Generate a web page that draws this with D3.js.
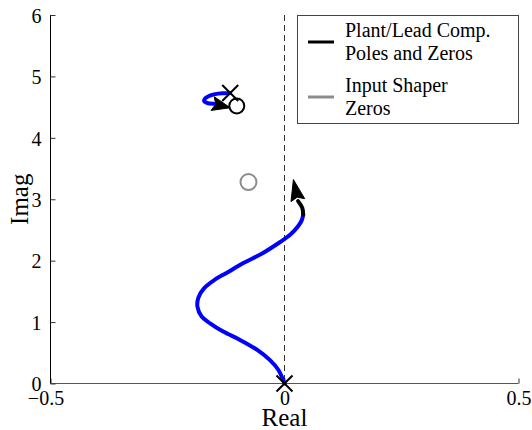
<!DOCTYPE html>
<html>
<head>
<meta charset="utf-8">
<script src="https://cdn.jsdelivr.net/npm/d3@7"></script>
<style>
  html, body { margin: 0; padding: 0; background: #fff; }
  svg { display: block; }
  text { font-family: "Liberation Serif", "Times New Roman", serif; fill: #000; }
</style>
</head>
<body>
<svg id="chart" width="532" height="430"></svg>
<script>
// Axis ticks
const realTicks = [-0.5, 0, 0.5];
const imagTicks = [0, 1, 2, 3, 4, 5, 6];

// Root locus branches [real, imag] (drawn in blue)
const lowerBranch = [
  [0, 0], [-0.013, 0.22], [-0.031, 0.38], [-0.059, 0.55], [-0.095, 0.71],
  [-0.131, 0.845], [-0.159, 0.98], [-0.177, 1.09], [-0.186, 1.25], [-0.184, 1.40],
  [-0.172, 1.55], [-0.149, 1.69], [-0.124, 1.80], [-0.088, 1.96], [-0.045, 2.13],
  [-0.010, 2.30], [0.012, 2.42], [0.029, 2.56], [0.037, 2.66], [0.040, 2.75]
];
const upperBranch = [
  [-0.116, 4.73], [-0.128, 4.725], [-0.142, 4.72], [-0.158, 4.69], [-0.169, 4.645],
  [-0.172, 4.60], [-0.166, 4.57], [-0.152, 4.555]
];

// Direction arrows at the ends of the branches (last point is the tip)
const lowerArrow = [[0.040, 2.75], [0.038, 2.86], [0.029, 2.97], [0.019, 3.32]];
const upperArrow = [[-0.152, 4.555], [-0.116, 4.49]];

// Plant / lead compensator poles and zeros
const plantPoles = [[0, 0], [-0.116, 4.73]];
const plantZeros = [[-0.102, 4.52]];
// Input shaper zeros
const shaperZeros = [[-0.077, 3.28]];

// Legend entries
const legendItems = [
  { lines: ["Plant/Lead Comp.", "Poles and Zeros"], color: "#000" },
  { lines: ["Input Shaper", "Zeros"], color: "#8c8c8c" }
];

const svg = d3.select("#chart");
const x = d3.scaleLinear().domain([-0.5, 0.5]).range([50.5, 518.5]);
const y = d3.scaleLinear().domain([0, 6]).range([383.5, 15]);

// Imaginary-axis reference line
svg.append("line")
  .attr("x1", x(0)).attr("x2", x(0))
  .attr("y1", y(6)).attr("y2", y(0))
  .attr("stroke", "#333").attr("stroke-width", 1)
  .attr("stroke-dasharray", "6,4");

// Axes
const xAxis = d3.axisBottom(x).tickValues(realTicks).tickSize(-5).tickPadding(8)
  .tickFormat(d => d === 0 ? "0" : (d < 0 ? "\u2212" : "") + Math.abs(d));
const yAxis = d3.axisLeft(y).tickValues(imagTicks).tickSize(-5).tickPadding(9)
  .tickFormat(d3.format("d"));

const gx = svg.append("g").attr("transform", `translate(0,${y(0)})`).call(xAxis);
const gy = svg.append("g").attr("transform", `translate(${x(-0.5)},0)`).call(yAxis);

gx.select(".domain").attr("stroke", "#555").attr("d", `M${x(-0.5)},0H${x(0.5)}`);
gy.select(".domain").attr("stroke", "#000").attr("d", `M0,${y(6)}V${y(0)}`);
gx.selectAll(".tick line").attr("stroke", "#333");
gy.selectAll(".tick line").attr("stroke", "#333");
gx.selectAll(".tick text")
  .attr("font-size", 20).attr("font-family", "Liberation Serif, serif")
  .attr("dx", d => d < 0 ? -5 : 0).attr("dy", "0.68em");
gy.selectAll(".tick text")
  .attr("font-size", 20).attr("font-family", "Liberation Serif, serif")
  .attr("dy", "0.36em");

// Axis titles
svg.append("text").attr("x", x(0)).attr("y", 426)
  .attr("text-anchor", "middle").attr("font-size", 25).text("Real");
svg.append("text")
  .attr("transform", `translate(28,${y(3)}) rotate(-90)`)
  .attr("text-anchor", "middle").attr("font-size", 25).text("Imag");

// Locus branches
const line = d3.line().x(d => x(d[0])).y(d => y(d[1])).curve(d3.curveCatmullRom.alpha(0.5));
[lowerBranch, upperBranch].forEach(b => {
  svg.append("path").attr("d", line(b))
    .attr("fill", "none").attr("stroke", "#0000ff")
    .attr("stroke-width", 4).attr("stroke-linejoin", "round").attr("stroke-linecap", "round");
});

// Arrows: stem plus a notched filled head
function drawArrow(pts, headLen, halfW) {
  const p = pts.map(d => [x(d[0]), y(d[1])]);
  const tip = p[p.length - 1], prev = p[p.length - 2];
  let dx = tip[0] - prev[0], dy = tip[1] - prev[1];
  const L = Math.hypot(dx, dy); dx /= L; dy /= L;
  const base = [tip[0] - dx * headLen, tip[1] - dy * headLen];
  const nx = -dy, ny = dx;
  if (p.length > 2) {
    const stem = p.slice(0, -1);
    svg.append("path").attr("d", d3.line().curve(d3.curveCatmullRom)(stem))
      .attr("fill", "none").attr("stroke", "#000").attr("stroke-width", 4)
      .attr("stroke-linecap", "round");
  }
  const notch = [base[0] + dx * 3, base[1] + dy * 3];
  svg.append("path")
    .attr("d", `M${tip}L${base[0] + nx * halfW},${base[1] + ny * halfW}L${notch}L${base[0] - nx * halfW},${base[1] - ny * halfW}Z`)
    .attr("fill", "#000").attr("stroke", "#000").attr("stroke-width", 1).attr("stroke-linejoin", "round");
}
drawArrow(lowerArrow, 21, 7);
drawArrow(upperArrow, 18, 7);

// Pole markers (x)
const s = 8;
svg.selectAll(".pole").data(plantPoles).enter().append("path")
  .attr("d", d => {
    const cx = x(d[0]), cy = y(d[1]);
    return `M${cx - s},${cy - s}L${cx + s},${cy + s}M${cx - s},${cy + s}L${cx + s},${cy - s}`;
  })
  .attr("stroke", "#000").attr("stroke-width", 2).attr("fill", "none");

// Zero markers (o)
svg.selectAll(".pzero").data(plantZeros).enter().append("circle")
  .attr("cx", d => x(d[0])).attr("cy", d => y(d[1])).attr("r", 7.5)
  .attr("fill", "none").attr("stroke", "#000").attr("stroke-width", 2);
svg.selectAll(".szero").data(shaperZeros).enter().append("circle")
  .attr("cx", d => x(d[0])).attr("cy", d => y(d[1])).attr("r", 8)
  .attr("fill", "none").attr("stroke", "#8c8c8c").attr("stroke-width", 2);

// Legend
const lg = svg.append("g");
lg.append("rect").attr("x", 297.5).attr("y", 15.5).attr("width", 221).attr("height", 108)
  .attr("fill", "#fff").attr("stroke", "#444").attr("stroke-width", 1);
legendItems.forEach((item, i) => {
  const top = 15 + i * 55;
  lg.append("line").attr("x1", 308).attr("x2", 334)
    .attr("y1", top + 27).attr("y2", top + 27)
    .attr("stroke", item.color).attr("stroke-width", 3);
  item.lines.forEach((t, j) => {
    lg.append("text").attr("x", 345).attr("y", top + 22 + j * 23)
      .attr("font-size", 20).text(t);
  });
});
</script>
</body>
</html>
